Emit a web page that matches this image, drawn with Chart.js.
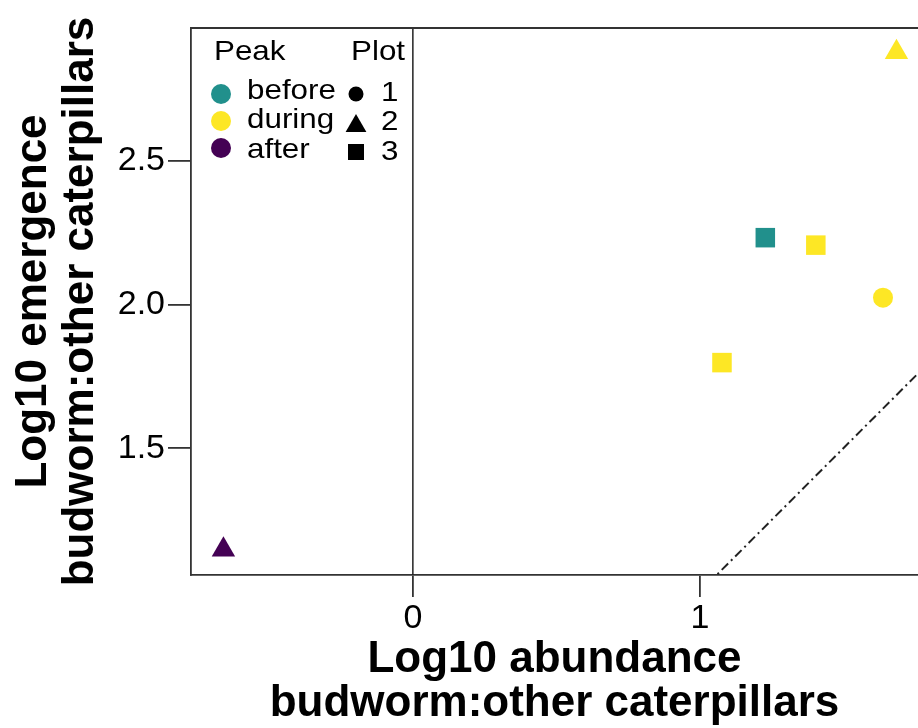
<!DOCTYPE html>
<html>
<head>
<meta charset="utf-8">
<script src="https://cdn.jsdelivr.net/npm/chart.js@4.4.1/dist/chart.umd.min.js"></script>
<style>
  html, body { margin: 0; padding: 0; background: #fff; }
  canvas { display: block; }
</style>
</head>
<body>
<canvas id="c" width="918" height="728"></canvas>
<script>
// axis ranges and ticks
const xRange = [-0.773, 1.76];
const yRange = [1.0585, 2.963];
const xTickValues = [0, 1];
const yTickValues = [1.5, 2.0, 2.5];

// legend levels
const peakLevels = ['before', 'during', 'after'];
const peakColors = ['#21908C', '#FDE725', '#440154'];
const plotLevels = ['1', '2', '3'];
const plotShapes = ['circle', 'triangle', 'rect'];

// one value per observation
const abundance = [-0.660, 1.685, 1.228, 1.404, 1.638, 1.077];
const emergence = [1.146, 2.879, 2.233, 2.207, 2.024, 1.798];
const peakOf = ['after', 'during', 'before', 'during', 'during', 'during'];
const plotOf = ['2', '2', '3', '3', '1', '3'];

// reference lines: vertical at x = 0 and the 1:1 line
const zeroLineX = [0, 0];
const zeroLineY = [0, 4];
const oneToOneX = [0, 3];
const oneToOneY = [0, 3];

const FONT = "'Liberation Sans', Arial, Helvetica, sans-serif";
const AXIS_COLOR = '#333';
const shapeRadius = { circle: 10, triangle: 13.5, rect: 13.8 };

const shapeFor = p => plotShapes[plotLevels.indexOf(p)];
const colorFor = p => peakColors[peakLevels.indexOf(p)];

// top edge of the panel box (left/bottom come from the axis borders)
const framePlugin = {
  id: 'frame',
  afterDatasetsDraw(chart) {
    const { ctx, chartArea: a } = chart;
    ctx.save();
    ctx.strokeStyle = AXIS_COLOR;
    ctx.lineWidth = 1.8;
    ctx.beginPath();
    ctx.moveTo(a.left, a.top);
    ctx.lineTo(a.right, a.top);
    ctx.stroke();
    ctx.restore();
  }
};

// legend text is a little wider than the regular face
function wideText(ctx, str, x, y) {
  ctx.save();
  ctx.translate(x, y);
  ctx.scale(1.12, 1);
  ctx.fillText(str, 0, 0);
  ctx.restore();
}

// two-column legend: Peak (colour) and Plot (shape)
const legendPlugin = {
  id: 'peakPlotLegend',
  afterDraw(chart) {
    const ctx = chart.ctx;
    const textY = [99, 128, 158];
    const markY = [94, 121, 148];
    ctx.save();
    ctx.fillStyle = '#000';
    ctx.font = '28px ' + FONT;
    ctx.textBaseline = 'alphabetic';
    ctx.textAlign = 'left';
    wideText(ctx, 'Peak', 214, 60);
    wideText(ctx, 'Plot', 351, 60);
    peakLevels.forEach((lvl, i) => {
      ctx.fillStyle = peakColors[i];
      Chart.helpers.drawPoint(ctx, { pointStyle: 'circle', radius: 10, borderWidth: 0 }, 221, markY[i]);
      ctx.fillStyle = '#000';
      wideText(ctx, lvl, 247, textY[i]);
    });
    const legendRadius = { circle: 7.5, triangle: 12, rect: 11.3 };
    const plotMarkY = [94, 126, 152];
    plotLevels.forEach((lvl, i) => {
      ctx.fillStyle = '#000';
      Chart.helpers.drawPoint(ctx, { pointStyle: plotShapes[i], radius: legendRadius[plotShapes[i]], borderWidth: 0 }, 356, plotMarkY[i]);
      wideText(ctx, lvl, 381, textY[i] + 2);
    });
    ctx.restore();
  }
};

new Chart(document.getElementById('c').getContext('2d'), {
  type: 'scatter',
  data: {
    datasets: [
      {
        label: 'observations',
        data: abundance.map((x, i) => ({ x, y: emergence[i] })),
        pointStyle: plotOf.map(shapeFor),
        pointRadius: plotOf.map(p => shapeRadius[shapeFor(p)]),
        pointHoverRadius: plotOf.map(p => shapeRadius[shapeFor(p)]),
        backgroundColor: peakOf.map(colorFor),
        borderColor: peakOf.map(colorFor),
        borderWidth: 0,
        clip: false
      },
      {
        label: 'x = 0',
        data: zeroLineX.map((x, i) => ({ x, y: zeroLineY[i] })),
        showLine: true,
        pointRadius: 0,
        borderColor: '#222',
        borderWidth: 1.5
      },
      {
        label: '1:1',
        data: oneToOneX.map((x, i) => ({ x, y: oneToOneY[i] })),
        showLine: true,
        pointRadius: 0,
        borderColor: '#222',
        borderWidth: 2,
        borderDash: [9, 4, 2, 4]
      }
    ]
  },
  options: {
    responsive: false,
    animation: false,
    events: [],
    layout: { autoPadding: false, padding: { top: 28, right: 0, left: 0, bottom: 0 } },
    plugins: { legend: { display: false }, tooltip: { enabled: false } },
    scales: {
      x: {
        type: 'linear',
        min: xRange[0],
        max: xRange[1],
        afterFit: s => { s.height = 153; s.paddingLeft = 0; s.paddingRight = 0; },
        afterBuildTicks: s => { s.ticks = xTickValues.map(v => ({ value: v })); },
        grid: { drawOnChartArea: false, drawTicks: true, tickLength: 22, color: AXIS_COLOR, lineWidth: 1.8 },
        border: { display: true, color: AXIS_COLOR, width: 1.8 },
        ticks: { color: '#000', font: { family: FONT, size: 34 }, padding: 1, callback: v => String(v) },
        title: {
          display: true,
          text: ['Log10 abundance', 'budworm:other caterpillars'],
          color: '#000',
          font: { family: FONT, size: 44, weight: 'bold', lineHeight: 1.0 },
          padding: { top: 0, bottom: 2 }
        }
      },
      y: {
        type: 'linear',
        min: yRange[0],
        max: yRange[1],
        afterFit: s => { s.width = 191; s.paddingTop = 0; s.paddingBottom = 0; },
        afterBuildTicks: s => { s.ticks = yTickValues.map(v => ({ value: v })); },
        grid: { drawOnChartArea: false, drawTicks: true, tickLength: 23, color: AXIS_COLOR, lineWidth: 1.8 },
        border: { display: true, color: AXIS_COLOR, width: 1.8 },
        ticks: { color: '#000', font: { family: FONT, size: 34 }, padding: 3, callback: v => v.toFixed(1) },
        title: {
          display: true,
          text: ['Log10 emergence', 'budworm:other caterpillars'],
          color: '#000',
          font: { family: FONT, size: 44, weight: 'bold', lineHeight: 1.06 },
          padding: { top: 11, bottom: 0 }
        }
      }
    }
  },
  plugins: [framePlugin, legendPlugin]
});
</script>
</body>
</html>
